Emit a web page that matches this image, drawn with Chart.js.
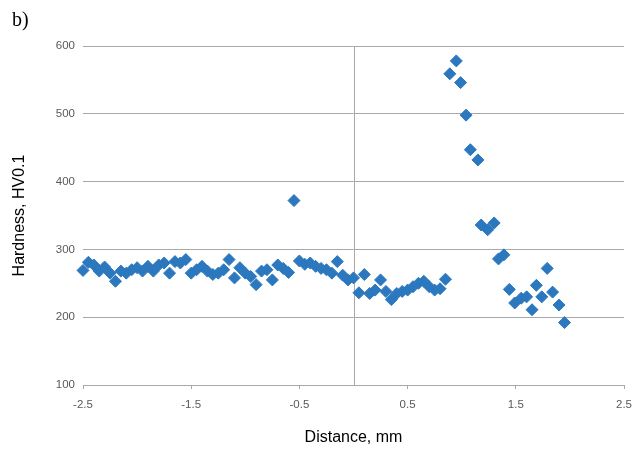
<!DOCTYPE html>
<html>
<head>
<meta charset="utf-8">
<script src="https://cdn.jsdelivr.net/npm/chart.js@4"></script>
<style>
  html, body { margin: 0; padding: 0; background: #fff; }
  #wrap { position: relative; width: 641px; height: 461px; }
  #label { position: absolute; left: 12px; top: 8px; font: 20px "Liberation Serif", serif; color: #000; }
</style>
</head>
<body>
<div id="wrap">
  <canvas id="myChart" width="641" height="461"></canvas>
  <div id="label">b)</div>
</div>
<script>
// distance from the weld centre, mm
var distance = [
  -2.50, -2.45, -2.40, -2.35, -2.30, -2.25, -2.20, -2.15, -2.10, -2.05,
  -2.00, -1.95, -1.90, -1.85, -1.80, -1.75, -1.70, -1.65, -1.60, -1.55,
  -1.50, -1.45, -1.40, -1.35, -1.30, -1.25, -1.20, -1.15, -1.10, -1.05,
  -1.00, -0.95, -0.90, -0.85, -0.80, -0.75, -0.70, -0.65, -0.60, -0.55,
  -0.50, -0.45, -0.40, -0.35, -0.30, -0.25, -0.20, -0.15, -0.10, -0.05,
  0.00, 0.05, 0.10, 0.15, 0.20, 0.25, 0.30, 0.35, 0.40, 0.45,
  0.50, 0.55, 0.60, 0.65, 0.70, 0.75, 0.80, 0.85,
  0.89, 0.95, 0.99, 1.04, 1.08, 1.15, 1.18, 1.24, 1.30, 1.34,
  1.39, 1.44, 1.49, 1.55, 1.60, 1.65, 1.69, 1.74, 1.79, 1.84,
  1.90, 1.95
];
// hardness, HV0.1
var hardness = [
  269, 281, 277, 268, 274, 265, 253, 268, 265, 270,
  273, 268, 275, 268, 277, 280, 265, 282, 280, 285,
  265, 270, 275, 268, 263, 265, 270, 285, 258, 273,
  265, 260, 248, 268, 270, 255, 277, 272, 266, 372,
  283, 278, 280, 275, 272, 270, 265, 282, 262, 255,
  258, 236, 263, 235, 240, 255, 238, 226, 235, 238,
  240, 245, 250, 253, 245, 240, 242, 256,
  559, 578, 546, 498, 447, 432, 336, 329, 339, 286,
  292, 241, 221, 228, 230, 211, 247, 230, 272, 237,
  218, 192
];
var xTicks = [-2.5, -1.5, -0.5, 0.5, 1.5, 2.5];
var yTicks = [100, 200, 300, 400, 500, 600];

var points = distance.map(function (d, i) {
  return { x: d, y: hardness[i] };
});

// vertical axis crosses at zero
var zeroLine = {
  id: "zeroLine",
  beforeDatasetsDraw: function (chart) {
    var ctx = chart.ctx;
    var px = Math.round(chart.scales.x.getPixelForValue(0)) + 0.5;
    ctx.save();
    ctx.strokeStyle = "#A8A8A8";
    ctx.lineWidth = 1;
    ctx.beginPath();
    ctx.moveTo(px, chart.chartArea.top);
    ctx.lineTo(px, chart.chartArea.bottom);
    ctx.stroke();
    ctx.restore();
  },
};

var ctx = document.getElementById("myChart").getContext("2d");
var myChart = new Chart(ctx, {
  type: "scatter",
  data: {
    datasets: [
      {
        label: "Hardness",
        data: points,
        clip: false,
        pointStyle: "rectRot",
        pointRadius: 6,
        pointHoverRadius: 6,
        backgroundColor: "#2C78BE",
        borderColor: "#2C78BE",
        borderWidth: 1,
      },
    ],
  },
  options: {
    responsive: false,
    animation: false,
    layout: { padding: { left: 0, right: 16, top: 46, bottom: 0 } },
    plugins: { legend: { display: false }, tooltip: { enabled: false } },
    scales: {
      x: {
        type: "linear",
        min: -2.5,
        max: 2.5,
        afterBuildTicks: function (scale) {
          scale.ticks = xTicks.map(function (v) { return { value: v }; });
        },
        afterFit: function (scale) { scale.height = 76; },
        grid: { drawOnChartArea: false, drawTicks: true, tickLength: 4, color: "#A8A8A8" },
        border: { display: true, color: "#A8A8A8" },
        ticks: {
          padding: 9,
          color: "#595959",
          font: { family: "'Liberation Sans', Arial, sans-serif", size: 11.5 },
          callback: function (v) { return v.toFixed(1); },
        },
        title: {
          display: true,
          text: "Distance, mm",
          color: "#000",
          font: { family: "'Liberation Sans', Arial, sans-serif", size: 16 },
          padding: { top: 0, bottom: 14 },
        },
      },
      y: {
        min: 100,
        max: 600,
        afterBuildTicks: function (scale) {
          scale.ticks = yTicks.map(function (v) { return { value: v }; });
        },
        afterFit: function (scale) { scale.width = 83; },
        grid: { drawTicks: false, color: "#A8A8A8" },
        border: { display: false },
        ticks: {
          padding: 8,
          color: "#595959",
          font: { family: "'Liberation Sans', Arial, sans-serif", size: 11.5 },
        },
        title: {
          display: true,
          text: "Hardness, HV0.1",
          color: "#000",
          font: { family: "'Liberation Sans', Arial, sans-serif", size: 16 },
          padding: { top: 10, bottom: 0 },
        },
      },
    },
  },
  plugins: [zeroLine],
});
</script>
</body>
</html>
